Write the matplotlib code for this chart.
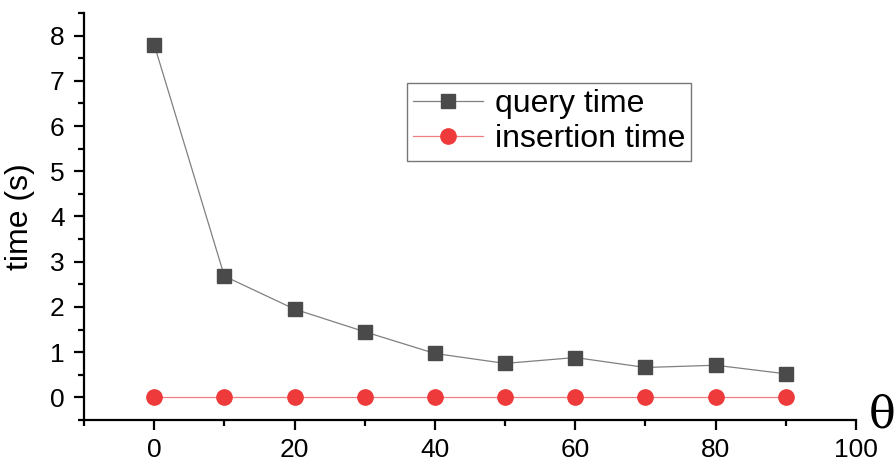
import numpy as np
import matplotlib.pyplot as plt
from matplotlib.ticker import MultipleLocator

plt.rcParams.update({
    "font.family": ["Liberation Sans", "DejaVu Sans"],
    "font.size": 18,
})

theta = [0, 10, 20, 30, 40, 50, 60, 70, 80, 90]
query_time = [7.8, 2.68, 1.95, 1.45, 0.97, 0.75, 0.88, 0.66, 0.71, 0.52]
insertion_time = [0, 0, 0, 0, 0, 0, 0, 0, 0, 0]

fig = plt.figure(figsize=(8.94, 4.63), dpi=100)
ax = fig.add_axes([0.094, 0.093, 0.8635, 0.879])

ax.plot(theta, query_time, color='#808080', lw=0.9, marker='s', ms=10.5,
        mfc='#4a4a4a', mec='#4a4a4a', label='query time')
ax.plot(theta, insertion_time, color='#f08080', lw=0.9, marker='o', ms=11,
        mfc='#ee3a3a', mec='#ee3a3a', label='insertion time')

ax.set_xlim(-10, 100)
ax.set_ylim(-0.5, 8.5)
ax.xaxis.set_major_locator(MultipleLocator(20))
ax.xaxis.set_minor_locator(MultipleLocator(10))
ax.yaxis.set_major_locator(MultipleLocator(1))
ax.yaxis.set_minor_locator(MultipleLocator(0.5))

for s in ['top', 'right']:
    ax.spines[s].set_visible(False)
for s in ['left', 'bottom']:
    ax.spines[s].set_linewidth(1.6)

ax.tick_params(which='major', direction='out', length=7, width=1.6, labelsize=19)
ax.tick_params(axis='y', which='major', pad=7)
ax.tick_params(axis='x', which='major', pad=6)
ax.tick_params(which='minor', direction='out', length=4, width=1.6)

ax.set_ylabel('time (s)', fontsize=23)
ax.yaxis.set_label_coords(-0.064, 0.5)
fig.text(0.972, 0.104, 'θ', fontsize=32, family='DejaVu Serif', ha='left', va='center')

leg = ax.legend(loc='upper left', bbox_to_anchor=(0.418, 0.828), numpoints=1,
                fancybox=False, edgecolor='#555555', fontsize=23,
                handlelength=2.2, handletextpad=0.35, borderpad=0.2,
                labelspacing=0.15, borderaxespad=0)
leg.get_frame().set_linewidth(1.0)

fig.savefig('out.png', dpi=100)
